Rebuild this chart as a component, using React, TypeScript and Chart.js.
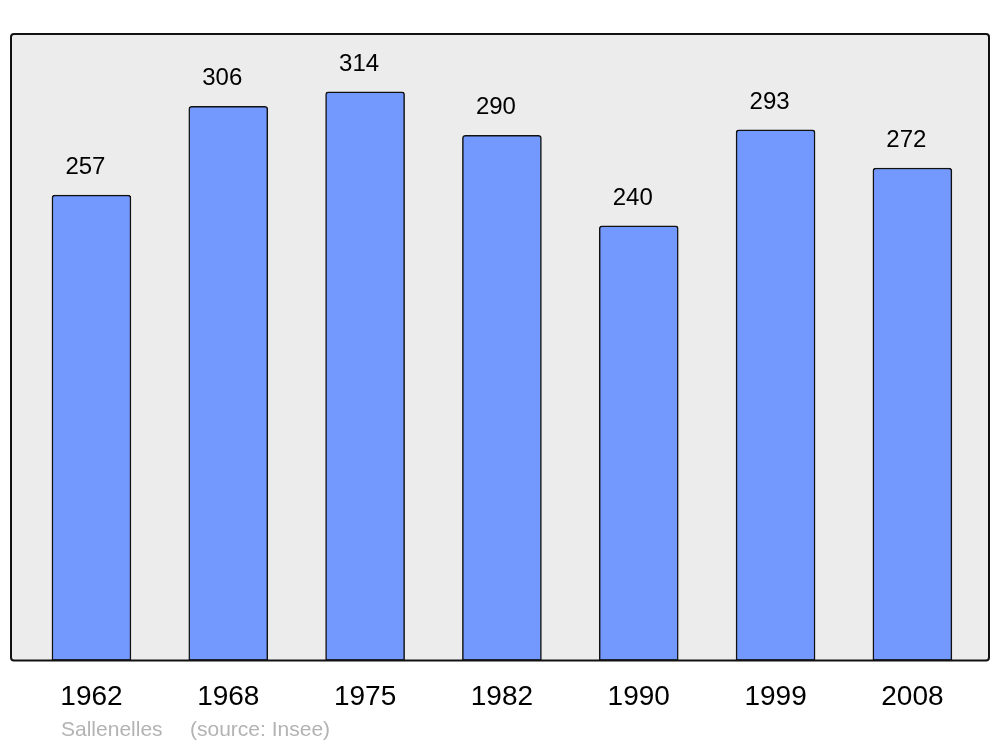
import React, { useEffect, useRef } from "react";
import { Chart, registerables } from "chart.js";

Chart.register(...registerables);

const years = ["1962", "1968", "1975", "1982", "1990", "1999", "2008"];
const population = [257, 306, 314, 290, 240, 293, 272];
const footerName = "Sallenelles";
const footerSource = "(source: Insee)";

const FONT = "'Liberation Sans', Arial, sans-serif";

const bgPlugin = {
  id: "plotBg",
  beforeDatasetsDraw(chart: any) {
    const { ctx, chartArea: a } = chart;
    ctx.save();
    ctx.fillStyle = "#ececec";
    ctx.beginPath();
    ctx.roundRect(a.left, a.top, a.right - a.left, a.bottom - a.top, 3);
    ctx.fill();
    ctx.restore();
  },
  afterDatasetsDraw(chart: any) {
    const { ctx, chartArea: a } = chart;
    ctx.save();
    ctx.strokeStyle = "#111";
    ctx.lineWidth = 2;
    ctx.beginPath();
    ctx.roundRect(a.left, a.top, a.right - a.left, a.bottom - a.top, 3);
    ctx.stroke();
    // value labels
    const meta = chart.getDatasetMeta(0);
    ctx.fillStyle = "#000";
    ctx.font = `24px ${FONT}`;
    ctx.textAlign = "center";
    ctx.textBaseline = "middle";
    meta.data.forEach((bar: any, i: number) => {
      ctx.fillText(String(population[i]), bar.x - 6, bar.y - 28);
    });
    // footer
    ctx.fillStyle = "#b3b3b3";
    ctx.font = `21px ${FONT}`;
    ctx.textAlign = "left";
    ctx.fillText(footerName, 61, 730);
    ctx.fillText(footerSource, 190, 730);
    ctx.restore();
  },
};

export default function App() {
  const ref = useRef<HTMLCanvasElement>(null);
  useEffect(() => {
    const chart = new Chart(ref.current!, {
      type: "bar",
      data: {
        datasets: [
          {
            data: population.map((v, i) => ({ x: i, y: v })),
            backgroundColor: "#7399ff",
            borderColor: "#111",
            borderWidth: 1.5,
            borderRadius: { topLeft: 3, topRight: 3, bottomLeft: 0, bottomRight: 0 },
            borderSkipped: false,
            barThickness: 79,
          },
        ],
      },
      options: {
        responsive: false,
        animation: false,
        layout: { padding: { left: 11, right: 11, top: 34, bottom: 13 } },
        plugins: { legend: { display: false }, tooltip: { enabled: false } },
        scales: {
          x: {
            type: "linear",
            offset: false,
            min: -0.588,
            max: 6.56,
            grid: { display: false, drawTicks: false },
            border: { display: false },
            afterBuildTicks: (axis: any) => {
              axis.ticks = years.map((_, i) => ({ value: i }));
            },
            ticks: {
              padding: 20,
              color: "#000",
              font: { size: 28, family: FONT },
              callback: (v: any) => years[v] ?? "",
              maxRotation: 0,
              autoSkip: false,
            },
          },
          y: { display: false, min: 0, max: 346 },
        },
      },
      plugins: [bgPlugin],
    } as any);
    return () => chart.destroy();
  }, []);
  return (
    <div style={{ position: "fixed", left: 0, top: 0, width: 1000, height: 747, background: "#fff" }}>
      <canvas ref={ref} width={1000} height={747} style={{ display: "block" }} />
    </div>
  );
}
